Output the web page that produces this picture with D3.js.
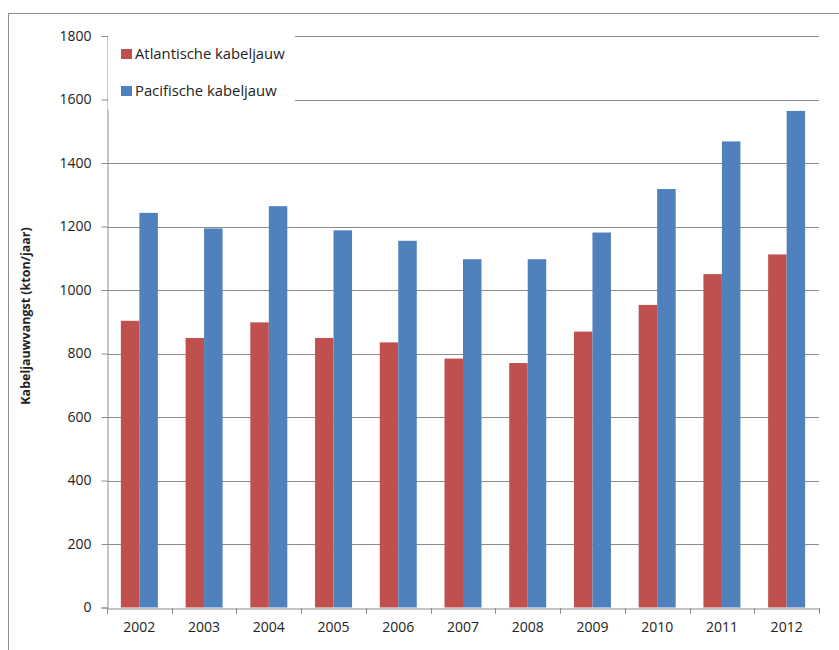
<!DOCTYPE html>
<html>
<head>
<meta charset="utf-8">
<script src="https://cdn.jsdelivr.net/npm/d3@7"></script>
<style>
  body { margin: 0; background: #fff; }
  text { font-family: "Open Sans", "Noto Sans", sans-serif; fill: #222; }
</style>
</head>
<body>
<div id="chart"></div>
<script>
// data
const years = ["2002","2003","2004","2005","2006","2007","2008","2009","2010","2011","2012"];
const atlantic = [903, 849, 898, 849, 835, 784, 770, 869, 953, 1050, 1112];
const pacific = [1243, 1194, 1264, 1188, 1155, 1097, 1097, 1181, 1318, 1468, 1564];
const seriesNames = ["Atlantische kabeljauw", "Pacifische kabeljauw"];
const seriesColors = ["#C0504D", "#4F81BD"];
const yTicks = [0, 200, 400, 600, 800, 1000, 1200, 1400, 1600, 1800];

const w = 839, h = 650;
const plotL = 107, plotR = 819, plotT = 36, plotB = 607.5;

const svg = d3.select("#chart").append("svg")
    .attr("width", w).attr("height", h);

// outer frame (runs off the right/bottom edge)
svg.append("rect")
    .attr("x", 8.5).attr("y", 13.5)
    .attr("width", 900).attr("height", 700)
    .attr("fill", "none").attr("stroke", "#8c8c8c");

const x = d3.scaleBand().domain(years).range([plotL, plotR]).paddingInner(0).paddingOuter(0);
const y = d3.scaleLinear().domain([0, 1800]).range([plotB, plotT]);
const xs = d3.scaleBand().domain([0, 1]).range([0, x.bandwidth()]).paddingInner(0).paddingOuter(0.75);

// gridlines
svg.append("g").selectAll("line")
    .data(yTicks.filter(d => d > 0))
    .enter().append("line")
    .attr("x1", plotL).attr("x2", plotR)
    .attr("y1", d => Math.round(y(d)) + 0.5).attr("y2", d => Math.round(y(d)) + 0.5)
    .attr("stroke", "#8c8c8c");

// bars
const data = years.map((yr, i) => ({ yr: yr, vals: [atlantic[i], pacific[i]] }));
const groups = svg.append("g").selectAll("g")
    .data(data).enter().append("g")
    .attr("transform", d => "translate(" + x(d.yr) + ",0)");
groups.selectAll("rect")
    .data(d => d.vals.map((v, k) => ({ v: v, k: k })))
    .enter().append("rect")
    .attr("x", d => xs(d.k))
    .attr("width", xs.bandwidth())
    .attr("y", d => y(d.v))
    .attr("height", d => y(0) - y(d.v))
    .attr("fill", d => seriesColors[d.k]);

// y axis
const yAxis = svg.append("g")
    .attr("transform", "translate(" + (plotL + 0.5) + ",0)")
    .call(d3.axisLeft(y).tickValues(yTicks).tickSize(6).tickPadding(10).tickFormat(d3.format("d")));
yAxis.select(".domain").attr("stroke", "#8c8c8c");
yAxis.selectAll(".tick line").attr("stroke", "#8c8c8c");
yAxis.selectAll("text").attr("font-size", "14px").attr("fill", "#222")
    .style("font-family", "'Open Sans', sans-serif");

// x axis
const xAxis = svg.append("g")
    .attr("transform", "translate(0," + (Math.round(plotB) + 0.5) + ")")
    .call(d3.axisBottom(x).tickSize(0).tickPadding(14));
xAxis.select(".domain").attr("stroke", "#8c8c8c");
xAxis.selectAll("text").attr("font-size", "14px").attr("fill", "#222")
    .style("font-family", "'Open Sans', sans-serif");
// tick marks between categories
svg.append("g").selectAll("line")
    .data(years.concat(["end"]))
    .enter().append("line")
    .attr("x1", (d, i) => Math.round(plotL + i * x.bandwidth()) + 0.5)
    .attr("x2", (d, i) => Math.round(plotL + i * x.bandwidth()) + 0.5)
    .attr("y1", Math.round(plotB)).attr("y2", Math.round(plotB) + 6)
    .attr("stroke", "#8c8c8c");

// y title
svg.append("text")
    .attr("transform", "translate(30,316) rotate(-90)")
    .attr("text-anchor", "middle")
    .attr("font-size", "12.5px")
    .attr("font-weight", "bold")
    .text("Kabeljauwvangst (kton/jaar)");

// legend with white box covering the gridlines
const legend = svg.append("g").attr("id", "legend");
legend.append("rect")
    .attr("x", plotL + 1).attr("y", 30)
    .attr("width", 187).attr("height", 80)
    .attr("fill", "#fff");
seriesNames.forEach((name, i) => {
    legend.append("rect")
        .attr("x", 121).attr("y", 49 + i * 37)
        .attr("width", 11).attr("height", 10)
        .attr("fill", seriesColors[i]);
    legend.append("text")
        .attr("x", 135).attr("y", 59 + i * 37)
        .attr("font-size", "14.8px")
        .text(name);
});
</script>
</body>
</html>
